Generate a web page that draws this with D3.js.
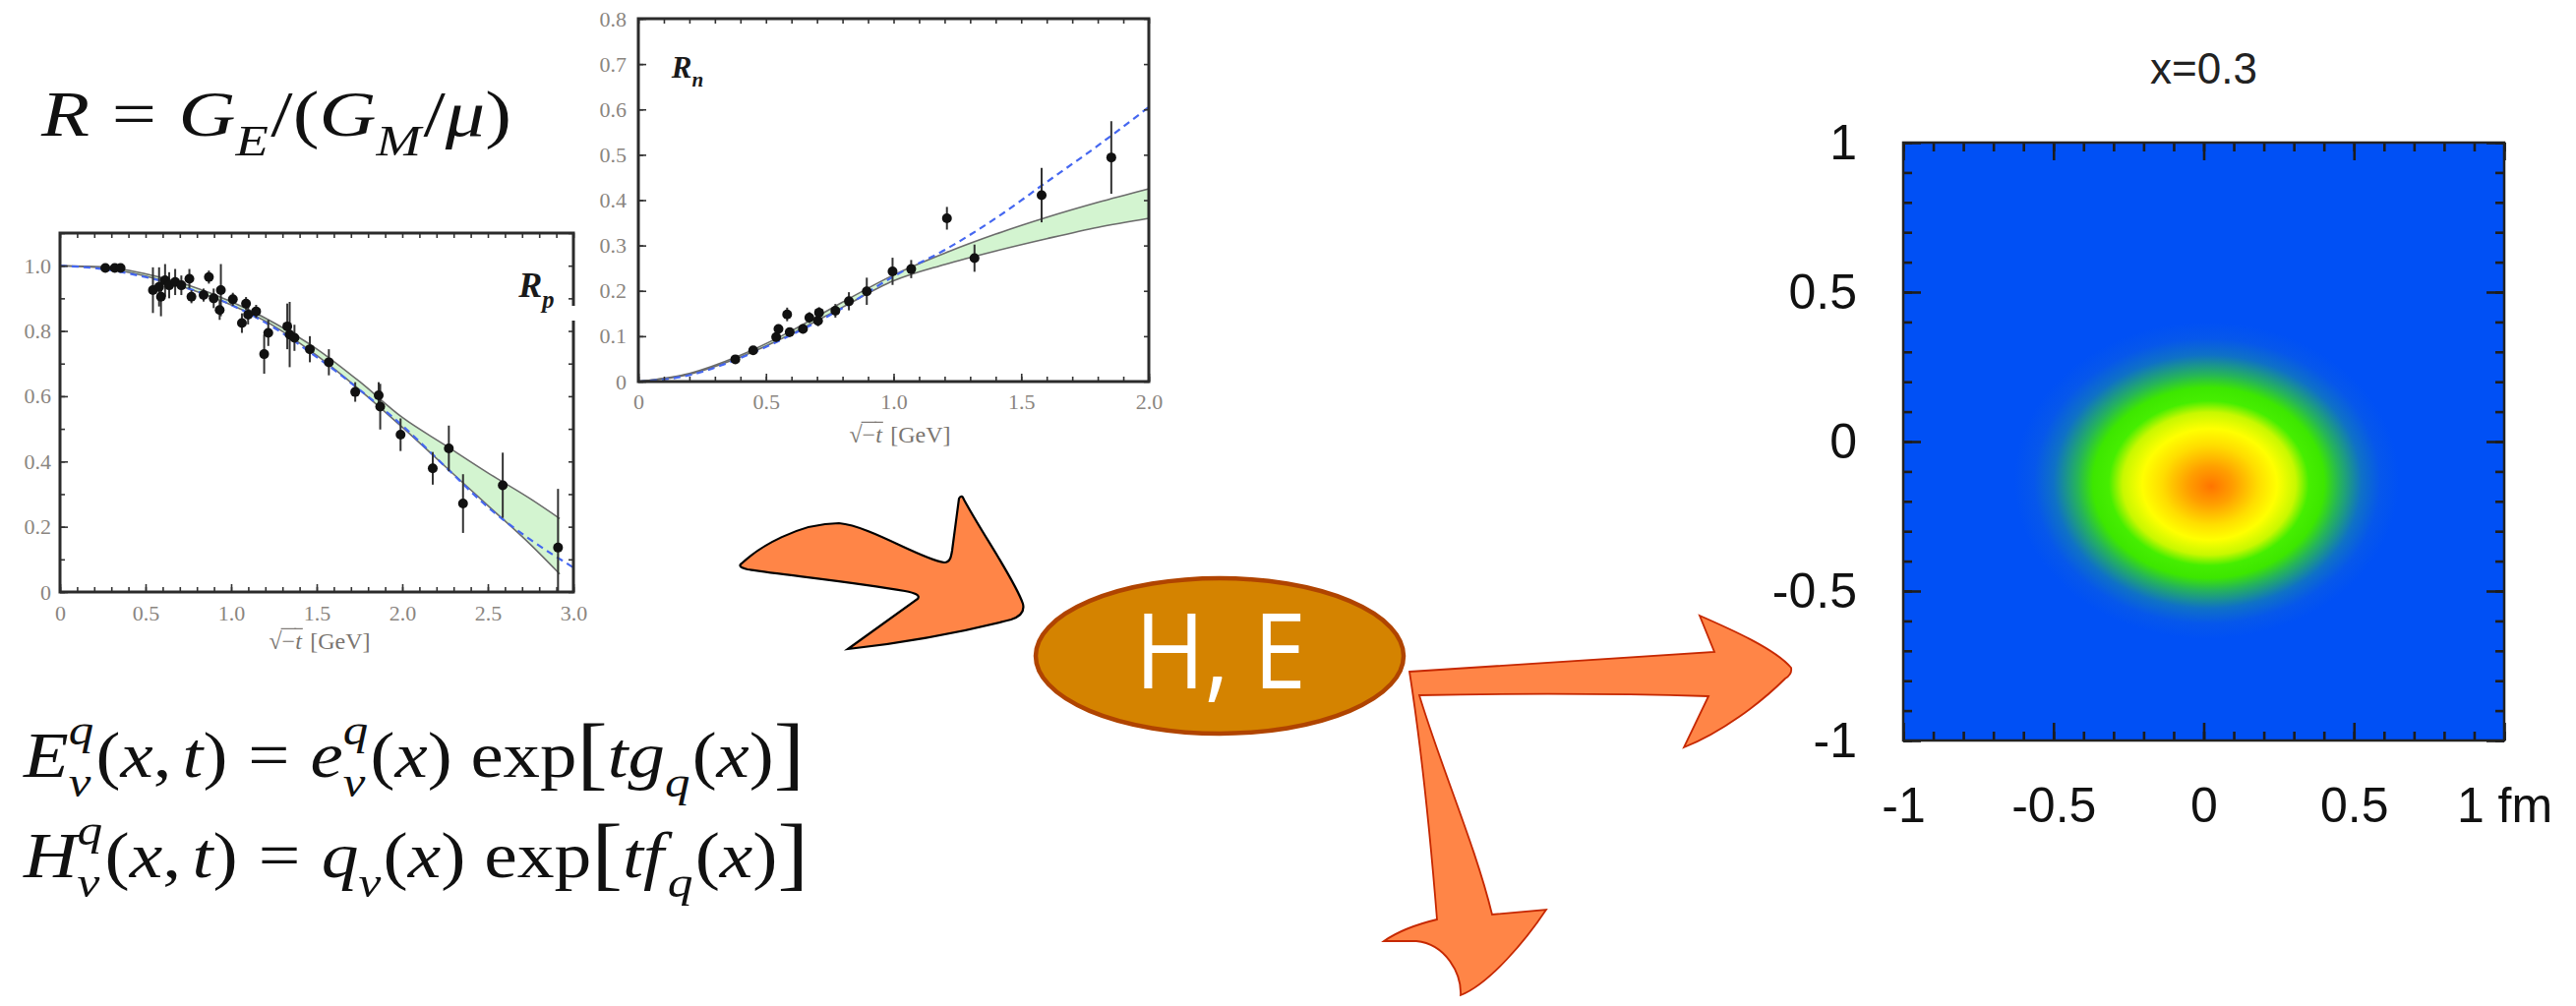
<!DOCTYPE html>
<html lang="en">
<head>
<meta charset="UTF-8">
<title>GPD sketch</title>
<script src="https://cdn.jsdelivr.net/npm/d3@7"></script>
<style>
  body { margin: 0; background: #fff; }
  svg { display: block; }
</style>
</head>
<body>
<script>
// ---------------- data ----------------
// proton ratio R_p : points (sqrt(-t), R, error)
var rpX   = [0.265,0.32,0.354,0.543,0.579,0.59,0.614,0.638,0.673,0.709,0.756,0.768,0.839,0.87,0.898,0.933,0.94,1.01,1.063,1.087,1.099,1.146,1.193,1.217,1.328,1.342,1.37,1.46,1.571,1.725,1.862,1.871,1.99,2.178,2.272,2.355,2.587,2.91];
var rpY   = [0.993,0.993,0.993,0.925,0.935,0.905,0.955,0.94,0.95,0.94,0.96,0.905,0.91,0.965,0.9,0.864,0.925,0.897,0.824,0.884,0.85,0.86,0.729,0.794,0.814,0.789,0.779,0.744,0.704,0.613,0.603,0.568,0.482,0.379,0.44,0.271,0.327,0.136];
var rpErr = [0.008,0.008,0.008,0.07,0.06,0.06,0.05,0.04,0.04,0.03,0.03,0.02,0.02,0.02,0.03,0.03,0.08,0.02,0.03,0.02,0.03,0.02,0.06,0.04,0.07,0.1,0.04,0.04,0.04,0.03,0.04,0.07,0.05,0.05,0.07,0.09,0.1,0.18];
// model band and dashed fit for R_p
var rpBandX = [0,0.25,0.5,0.75,1.0,1.25,1.5,1.75,2.0,2.25,2.5,2.75,2.92];
var rpUpper = [1.0,0.997,0.975,0.94,0.89,0.825,0.745,0.645,0.535,0.45,0.365,0.285,0.225];
var rpLower = [1.0,0.993,0.968,0.93,0.88,0.815,0.725,0.62,0.505,0.385,0.265,0.145,0.055];
var rpDashX = [0,0.25,0.5,0.75,1.0,1.25,1.5,1.75,2.0,2.25,2.5,2.75,3.0];
var rpDash  = [1.0,0.99,0.965,0.93,0.88,0.81,0.72,0.62,0.51,0.385,0.26,0.16,0.075];

// neutron ratio R_n
var rnX   = [0.38,0.45,0.54,0.549,0.583,0.593,0.645,0.67,0.704,0.708,0.772,0.825,0.895,0.996,1.069,1.209,1.317,1.58,1.853];
var rnY   = [0.049,0.069,0.098,0.116,0.148,0.109,0.116,0.141,0.134,0.152,0.156,0.177,0.199,0.243,0.248,0.36,0.272,0.411,0.494];
var rnErr = [0.006,0.008,0.01,0.01,0.015,0.01,0.01,0.012,0.012,0.012,0.015,0.02,0.03,0.03,0.02,0.025,0.03,0.06,0.08];
var rnBandX = [0,0.2,0.4,0.6,0.8,1.0,1.2,1.4,1.6,1.8,2.0];
var rnUpper = [0,0.018,0.058,0.112,0.175,0.235,0.283,0.325,0.362,0.395,0.425];
var rnLower = [0,0.016,0.054,0.105,0.164,0.222,0.258,0.288,0.315,0.34,0.36];
var rnDash  = [0,0.014,0.052,0.103,0.162,0.232,0.29,0.36,0.44,0.52,0.605];

// tick values / labels
var rpXMajor = [0,0.5,1.0,1.5,2.0,2.5,3.0];
var rpYMajor = [0,0.2,0.4,0.6,0.8,1.0];
var rnXMajor = [0,0.5,1.0,1.5,2.0];
var rnYMajor = [0,0.1,0.2,0.3,0.4,0.5,0.6,0.7,0.8];
var hmMajor  = [-1,-0.5,0,0.5,1];
var hmXLabels = ["-1","-0.5","0","0.5","1 fm"];
var hmYLabels = ["-1","-0.5","0","0.5","1"];

// impact-parameter density at x=0.3 : radial profile
var densRadius = [0,0.12,0.25,0.35,0.45,0.52,0.6,0.68,0.8,0.9,1.0];
var densValue  = [1.0,0.92,0.8,0.73,0.64,0.55,0.48,0.36,0.18,0.07,0];
var densCenter = [0.01,-0.13];
var densFocus  = [0.025,-0.15];
var densRadii  = [0.64,0.53];
var colorStops = [0,0.12,0.3,0.47,0.55,0.64,0.73,0.86,1.0];
var colorRange = ["#0050f5","#0a5ce4","#1a9a8a","#3ce600","#46ee00","#c8f800","#ffff00","#ffc000","#ff7400"];

// ---------------- canvas ----------------
var W = 2619, H = 1023;
var svg = d3.select("body").append("svg").attr("width", W).attr("height", H);
var defs = svg.append("defs");

var serif = "Liberation Serif";
var labelGray = "#8a8580";

// lay out a row of math pieces, measuring each, then stretch to target width
function mathRow(parent, pieces, o) {
  var g = parent.append("g")
      .attr("font-family", o.family || serif)
      .attr("font-weight", o.weight || "normal")
      .attr("fill", o.color || "#111");
  var fs = o.size, x = 0;
  function put(txt, px, py, size, it) {
    var t = g.append("text").attr("x", px).attr("y", py).attr("font-size", size)
        .attr("font-style", it ? "italic" : "normal").text(txt);
    return t.node().getComputedTextLength();
  }
  pieces.forEach(function (p) {
    x += (p.pre || 0) * fs;
    if (p.sup != null || p.sub != null) {
      var w = 0;
      if (p.sup != null) w = Math.max(w, put(p.sup, x, -fs * 0.5, fs * 0.68, true));
      if (p.sub != null) w = Math.max(w, put(p.sub, x, fs * 0.3, fs * 0.68, true));
      x += w + fs * 0.03;
    } else {
      var s = fs * (p.scale || 1);
      var w = put(p.t, x, (p.dy || 0) * fs, s, p.it);
      if (p.over) {
        g.append("line").attr("x1", x - 1).attr("x2", x + w + 1)
            .attr("y1", -fs * 0.86).attr("y2", -fs * 0.86)
            .attr("stroke", o.color || "#111").attr("stroke-width", fs * 0.05);
      }
      x += w + (p.gap || 0) * fs;
    }
  });
  var sx = o.width ? o.width / x : 1;
  var x0 = o.anchor === "middle" ? o.x - x * sx / 2 : o.x;
  g.attr("transform", "translate(" + x0 + "," + o.y + ") scale(" + sx + ",1)");
  return g;
}

function fmt1(d) { return d === 0 ? "0" : d.toFixed(1); }

// ---------------- ratio panels ----------------
function ratioPanel(cfg) {
  var g = svg.append("g");
  var x = d3.scaleLinear().domain(cfg.xDom).range([cfg.box.left, cfg.box.right]);
  var y = d3.scaleLinear().domain(cfg.yDom).range([cfg.box.bottom, cfg.box.top]).clamp(true);

  var band = cfg.bandX.map(function (d, i) { return { x: d, lo: cfg.lower[i], hi: cfg.upper[i] }; });
  g.append("path").datum(band)
      .attr("fill", "#d3f4d0")
      .attr("d", d3.area().curve(d3.curveMonotoneX)
          .x(function (d) { return x(d.x); })
          .y0(function (d) { return y(d.lo); })
          .y1(function (d) { return y(d.hi); }));
  ["lo", "hi"].forEach(function (k) {
    g.append("path").datum(band)
        .attr("fill", "none").attr("stroke", "#6b6b6b").attr("stroke-width", 1.6)
        .attr("d", d3.line().curve(d3.curveMonotoneX)
            .x(function (d) { return x(d.x); })
            .y(function (d) { return y(d[k]); }));
  });
  var dash = cfg.dashX.map(function (d, i) { return { x: d, y: cfg.dash[i] }; });
  g.append("path").datum(dash)
      .attr("fill", "none").attr("stroke", "#4567f0").attr("stroke-width", 2.2)
      .attr("stroke-dasharray", "7,5")
      .attr("d", d3.line().curve(d3.curveMonotoneX)
          .x(function (d) { return x(d.x); })
          .y(function (d) { return y(d.y); }));

  var pts = cfg.px.map(function (d, i) { return { x: d, y: cfg.py[i], e: cfg.pe[i] }; });
  g.selectAll(".err").data(pts).enter().append("line")
      .attr("x1", function (d) { return x(d.x); })
      .attr("x2", function (d) { return x(d.x); })
      .attr("y1", function (d) { return y(d.y - d.e); })
      .attr("y2", function (d) { return y(d.y + d.e); })
      .attr("stroke", "#333").attr("stroke-width", 2);
  g.selectAll(".pt").data(pts).enter().append("circle")
      .attr("cx", function (d) { return x(d.x); })
      .attr("cy", function (d) { return y(d.y); })
      .attr("r", 5).attr("fill", "#111");

  // ticks (inward) on all four sides
  function axis(a, tr, vals, size, pad, f) {
    var ax = g.append("g").attr("transform", tr)
        .call(a.tickValues(vals).tickSize(size).tickPadding(pad).tickFormat(f || ""));
    ax.select(".domain").remove();
    ax.selectAll("line").attr("stroke", "#333").attr("stroke-width", 1.6);
    ax.selectAll("text").attr("font-family", serif).attr("font-size", 22).attr("fill", labelGray);
  }
  var b = cfg.box;
  axis(d3.axisBottom(x), "translate(0," + b.bottom + ")", cfg.xMinor, -5, 0);
  axis(d3.axisTop(x), "translate(0," + b.top + ")", cfg.xMinor, -5, 0);
  axis(d3.axisLeft(y), "translate(" + b.left + ",0)", cfg.yMinor, -5, 0);
  axis(d3.axisRight(y), "translate(" + b.right + ",0)", cfg.yMinor, -5, 0);
  axis(d3.axisBottom(x), "translate(0," + b.bottom + ")", cfg.xMajor, -8, cfg.xPad, fmt1);
  axis(d3.axisLeft(y), "translate(" + b.left + ",0)", cfg.yMajor, -8, cfg.yPad, fmt1);

  g.append("rect").attr("x", b.left).attr("y", b.top)
      .attr("width", b.right - b.left).attr("height", b.bottom - b.top)
      .attr("fill", "none").attr("stroke", "#2b2b2b").attr("stroke-width", 3);

  // panel tag, e.g. R_p
  mathRow(g, [{ t: "R", it: true }, { sub: cfg.tag }],
      { x: x(cfg.tagAt[0]), y: y(cfg.tagAt[1]), size: cfg.tagSize, weight: "bold", color: "#1a1a1a" });
  // x axis title sqrt(-t) [GeV]
  mathRow(g, [{ t: "\u221A" }, { t: "\u2212", over: true }, { t: "t", it: true, over: true, gap: 0.35 }, { t: "[GeV]" }],
      { x: cfg.titleX, y: cfg.titleY, size: 24, anchor: "middle", color: "#7a7570" });
  return g;
}

ratioPanel({
  box: { left: 61, right: 583, top: 237, bottom: 602 },
  xDom: [0, 3], yDom: [0, 1.1],
  bandX: rpBandX, upper: rpUpper, lower: rpLower, dashX: rpDashX, dash: rpDash,
  px: rpX, py: rpY, pe: rpErr,
  xMajor: rpXMajor, yMajor: rpYMajor,
  xMinor: d3.range(0, 3.001, 0.1), yMinor: d3.range(0, 1.101, 0.1),
  xPad: 13, yPad: 9, tag: "p", tagAt: [2.68, 0.905], tagSize: 36,
  titleX: 325, titleY: 660
});

ratioPanel({
  box: { left: 649, right: 1168, top: 19, bottom: 388 },
  xDom: [0, 2], yDom: [0, 0.8],
  bandX: rnBandX, upper: rnUpper, lower: rnLower, dashX: rnBandX, dash: rnDash,
  px: rnX, py: rnY, pe: rnErr,
  xMajor: rnXMajor, yMajor: rnYMajor,
  xMinor: d3.range(0, 2.001, 0.1), yMinor: d3.range(0, 0.801, 0.1),
  xPad: 12, yPad: 12, tag: "n", tagAt: [0.13, 0.67], tagSize: 31,
  titleX: 915, titleY: 450
});

// the neutron panel's white paper clips the proton frame a little
svg.append("rect").attr("x", 576).attr("y", 311).attr("width", 20).attr("height", 15).attr("fill", "#fff");

// ---------------- formulas ----------------
mathRow(svg, [
  { t: "R", it: true }, { t: "=", pre: 0.28, gap: 0.28 }, { t: "G", it: true }, { sub: "E" },
  { t: "/" }, { t: "(" }, { t: "G", it: true }, { sub: "M" }, { t: "/" }, { t: "\u03BC", it: true }, { t: ")" }
], { x: 42, y: 138, size: 66, width: 478 });

mathRow(svg, [
  { t: "E", it: true }, { sup: "q", sub: "v" }, { t: "(" }, { t: "x", it: true }, { t: ",", gap: 0.15 },
  { t: "t", it: true }, { t: ")" }, { t: "=", pre: 0.28, gap: 0.28 }, { t: "e", it: true }, { sup: "q", sub: "v" },
  { t: "(" }, { t: "x", it: true }, { t: ")", gap: 0.25 }, { t: "exp" }, { t: "[", scale: 1.25, dy: 0.05 },
  { t: "t", it: true }, { t: "g", it: true }, { sub: "q" }, { t: "(" }, { t: "x", it: true }, { t: ")" },
  { t: "]", scale: 1.25, dy: 0.05 }
], { x: 24, y: 790, size: 66, width: 794 });

mathRow(svg, [
  { t: "H", it: true }, { sup: "q", sub: "v" }, { t: "(" }, { t: "x", it: true }, { t: ",", gap: 0.15 },
  { t: "t", it: true }, { t: ")" }, { t: "=", pre: 0.28, gap: 0.28 }, { t: "q", it: true }, { sub: "v" },
  { t: "(" }, { t: "x", it: true }, { t: ")", gap: 0.25 }, { t: "exp" }, { t: "[", scale: 1.25, dy: 0.05 },
  { t: "t", it: true }, { t: "f", it: true, gap: 0.05 }, { sub: "q" }, { t: "(" }, { t: "x", it: true }, { t: ")" },
  { t: "]", scale: 1.25, dy: 0.05 }
], { x: 24, y: 892, size: 66, width: 798 });

// ---------------- arrows and H,E node ----------------
var arrowFill = "#ff8547";
svg.append("path")
    .attr("d", "M754,573 C772,556 812,532 853,532 C885,535 935,568 960,572 C966,572 967,566 968,560 " +
        "L975,507 C977,503 979,505 980,508 C1000,545 1032,590 1040,614 C1042,622 1037,627 1028,630 " +
        "Q950,650 862,660 L933,609 C936,605 930,603 920,601 C870,592 800,585 760,579 C752,577 751,575 754,573 Z")
    .attr("fill", arrowFill).attr("stroke", "#000").attr("stroke-width", 2.2);

svg.append("path")
    .attr("d", "M1433,683 Q1600,672 1743,663 L1728,626 C1760,640 1805,660 1821,679 C1822,684 1820,687 1815,690 " +
        "C1790,715 1750,745 1712,760 L1737,708 Q1600,704 1443,707 " +
        "C1465,780 1500,860 1517,930 L1572,925 C1552,955 1515,1000 1485,1012 " +
        "C1486,990 1470,960 1440,957 L1407,957 C1420,948 1440,940 1461,935 C1455,860 1445,760 1433,683 Z")
    .attr("fill", arrowFill).attr("stroke", "#c62800").attr("stroke-width", 1.8);

svg.append("ellipse").attr("cx", 1240).attr("cy", 667).attr("rx", 187).attr("ry", 79)
    .attr("fill", "#d48300").attr("stroke", "#b04400").attr("stroke-width", 4.5);
svg.append("text").attr("x", 1241).attr("y", 700).attr("text-anchor", "middle")
    .attr("font-family", "Open Sans").attr("font-size", 106).attr("fill", "#fff")
    .attr("textLength", 174).attr("lengthAdjust", "spacingAndGlyphs")
    .text("H, E");

// ---------------- density map ----------------
var hm = { left: 1935, right: 2546, top: 145, bottom: 753 };
var xHm = d3.scaleLinear().domain([-1, 1]).range([hm.left, hm.right]);
var yHm = d3.scaleLinear().domain([-1, 1]).range([hm.bottom, hm.top]);
var dens = d3.scaleLinear().domain(colorStops).range(colorRange).interpolate(d3.interpolateRgb);

var grad = defs.append("radialGradient").attr("id", "dens")
    .attr("cx", 0.5).attr("cy", 0.5).attr("r", 0.5)
    .attr("fx", 0.5 + (densFocus[0] - densCenter[0]) / (2 * densRadii[0]))
    .attr("fy", 0.5 - (densFocus[1] - densCenter[1]) / (2 * densRadii[1]));
grad.selectAll("stop").data(densRadius).enter().append("stop")
    .attr("offset", function (d) { return d; })
    .attr("stop-color", function (d, i) { return dens(densValue[i]); });

var hg = svg.append("g");
hg.append("rect").attr("x", hm.left).attr("y", hm.top)
    .attr("width", hm.right - hm.left).attr("height", hm.bottom - hm.top)
    .attr("fill", dens(0));
hg.append("ellipse")
    .attr("cx", xHm(densCenter[0])).attr("cy", yHm(densCenter[1]))
    .attr("rx", xHm(densRadii[0]) - xHm(0)).attr("ry", yHm(0) - yHm(densRadii[1]))
    .attr("fill", "url(#dens)");

function hmAxis(a, tr, vals, size, pad, labels) {
  var ax = hg.append("g").attr("transform", tr)
      .call(a.tickValues(vals).tickSize(size).tickPadding(pad)
          .tickFormat(labels ? function (d, i) { return labels[i]; } : ""));
  ax.select(".domain").remove();
  ax.selectAll("line").attr("stroke", "#1d1d1d").attr("stroke-width", 2.6);
  ax.selectAll("text").attr("font-family", "Liberation Sans").attr("font-size", 50).attr("fill", "#111");
}
var hmMinor = d3.range(-1, 1.001, 0.1);
hmAxis(d3.axisBottom(xHm), "translate(0," + hm.bottom + ")", hmMinor, -9, 0);
hmAxis(d3.axisTop(xHm), "translate(0," + hm.top + ")", hmMinor, -9, 0);
hmAxis(d3.axisLeft(yHm), "translate(" + hm.left + ",0)", hmMinor, -9, 0);
hmAxis(d3.axisRight(yHm), "translate(" + hm.right + ",0)", hmMinor, -9, 0);
hmAxis(d3.axisBottom(xHm), "translate(0," + hm.bottom + ")", hmMajor, -18, 47, hmXLabels);
hmAxis(d3.axisLeft(yHm), "translate(" + hm.left + ",0)", hmMajor, -18, 47, hmYLabels);
hmAxis(d3.axisTop(xHm), "translate(0," + hm.top + ")", hmMajor, -18, 0);
hmAxis(d3.axisRight(yHm), "translate(" + hm.right + ",0)", hmMajor, -18, 0);

hg.append("rect").attr("x", hm.left).attr("y", hm.top)
    .attr("width", hm.right - hm.left).attr("height", hm.bottom - hm.top)
    .attr("fill", "none").attr("stroke", "#222").attr("stroke-width", 2.5);

hg.append("text").attr("x", (hm.left + hm.right) / 2).attr("y", 85)
    .attr("text-anchor", "middle").attr("font-family", "Liberation Sans")
    .attr("font-size", 44).attr("fill", "#222").text("x=0.3");
</script>
</body>
</html>
